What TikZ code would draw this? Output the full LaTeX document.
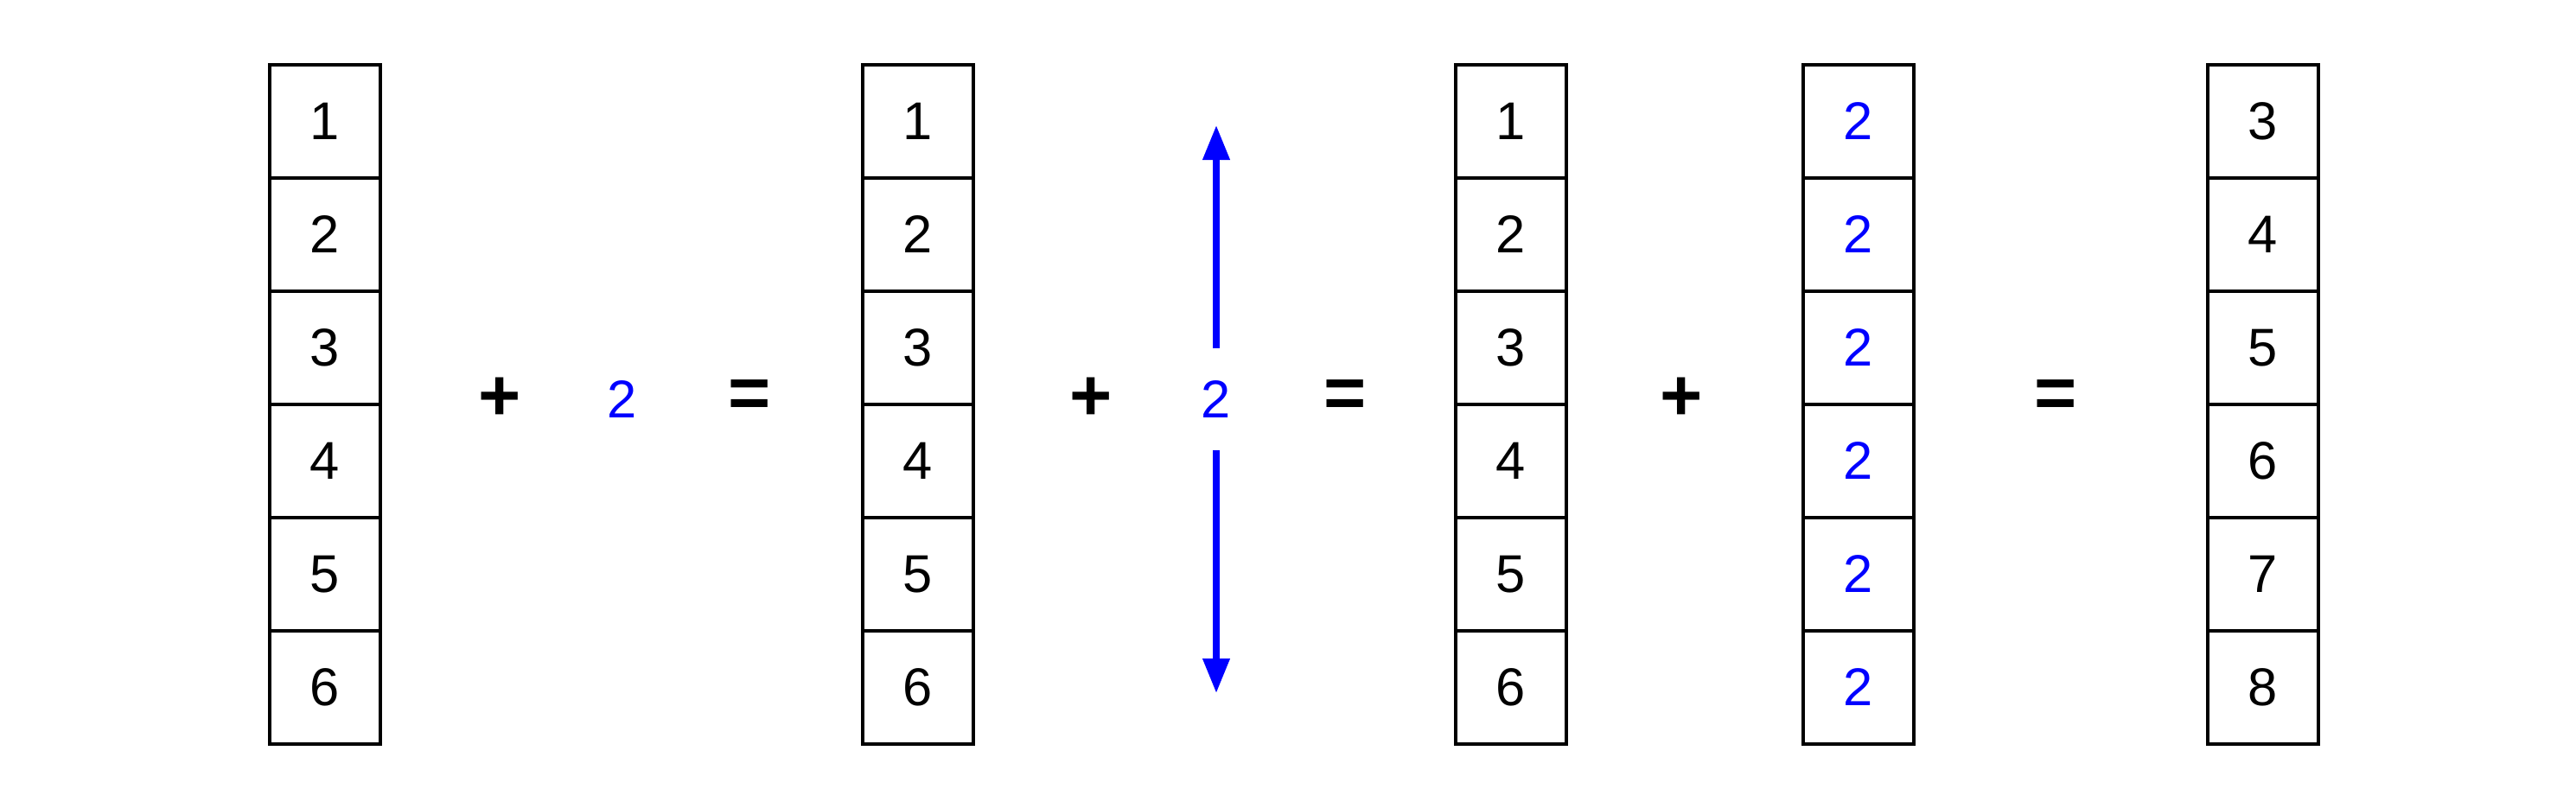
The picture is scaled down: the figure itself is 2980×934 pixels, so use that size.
\documentclass[tikz,border=0pt]{standalone}
\usepackage{fontspec}
\setmainfont{Liberation Sans}
\usetikzlibrary{arrows.meta}
\usetikzlibrary{positioning}

\begin{document}
\begin{tikzpicture}[x=0.1mm, y=-0.1mm,
    cell/.style={draw, line width=1pt, minimum width=12.8mm, minimum height=13.1mm,
      inner sep=0pt, outer sep=0pt, font=\fontsize{17.5}{20}\selectfont},
    op/.style={font=\fontsize{24}{28}\selectfont\bfseries},
    num/.style={text=blue, font=\fontsize{17.5}{20}\selectfont},
    push/.style={blue, line width=0.72mm, -{Triangle[length=4mm, width=3mm]}}]
  \useasboundingbox (0,0) rectangle (2980,934);

  % columns
  \foreach \i in {1,...,6} {
    \node[cell] (a\i) at (376,{9.5+131*\i}) {\i};
    \node[cell] (b\i) at (1062,{9.5+131*\i}) {\i};
    \node[cell] (c\i) at (1748,{9.5+131*\i}) {\i};
    \node[cell, text=blue] (d\i) at (2150,{9.5+131*\i}) {2};
  }
  \foreach \i [evaluate=\i as \v using int(\i+2)] in {1,...,6}
    \node[cell] (r\i) at (2618,{9.5+131*\i}) {\v};

  % operators
  \node[op] (p1) at (578,462) {+};
  \node[num] (s1) at (720,462) {2};
  \node[op] (e1) at (867,462) {=};
  \node[op] (p2) at (1262,462) {+};
  \node[num, inner ysep=10.5pt] (s2) at (1407,462) {2};
  \node[op] (e2) at (1556,462) {=};
  \node[op] (p3) at (1945,462) {+};
  \node[op] (e3) at (2378,462) {=};

  % broadcast
  \coordinate (up) at (1407,145);
  \coordinate (down) at (1407,802);
  \draw[push] (s2) -- (up);
  \draw[push] (s2) -- (down);
\end{tikzpicture}
\end{document}
